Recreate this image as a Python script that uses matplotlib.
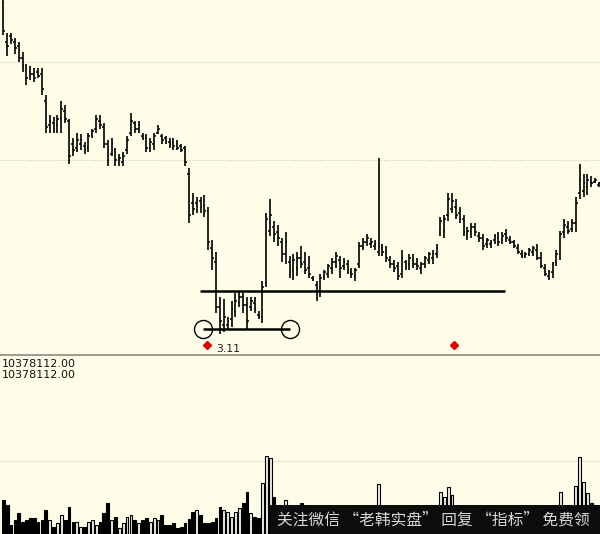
import matplotlib
matplotlib.use("Agg")
import matplotlib.pyplot as plt
from matplotlib.patches import Rectangle
import numpy as np

# ---------------- data ----------------
highs = [4.83, 4.65, 4.65, 4.62, 4.60, 4.55, 4.49, 4.48, 4.47, 4.47,
         4.47, 4.33, 4.23, 4.22, 4.23, 4.30, 4.28, 4.21, 4.11, 4.14,
         4.13, 4.09, 4.14, 4.16, 4.23, 4.23, 4.19, 4.10, 4.11, 4.06,
         4.03, 4.04, 4.12, 4.24, 4.20, 4.20, 4.14, 4.13, 4.11, 4.14,
         4.18, 4.13, 4.12, 4.11, 4.11, 4.10, 4.08, 4.07, 3.96, 3.83,
         3.81, 3.81, 3.82, 3.76, 3.59, 3.53, 3.30, 3.29, 3.20, 3.28,
         3.32, 3.33, 3.32, 3.30, 3.30, 3.30, 3.23, 3.38, 3.73, 3.80,
         3.69, 3.67, 3.60, 3.63, 3.51, 3.52, 3.53, 3.56, 3.53, 3.51,
         3.41, 3.38, 3.42, 3.44, 3.47, 3.50, 3.53, 3.51, 3.50, 3.49,
         3.45, 3.45, 3.58, 3.60, 3.62, 3.60, 3.59, 4.01, 3.57, 3.56,
         3.51, 3.49, 3.48, 3.54, 3.49, 3.52, 3.52, 3.50, 3.48, 3.51,
         3.53, 3.54, 3.57, 3.71, 3.72, 3.83, 3.83, 3.80, 3.76, 3.72,
         3.66, 3.68, 3.68, 3.63, 3.62, 3.60, 3.59, 3.62, 3.63, 3.63,
         3.65, 3.61, 3.59, 3.57, 3.54, 3.53, 3.55, 3.56, 3.57, 3.53,
         3.47, 3.44, 3.48, 3.54, 3.64, 3.70, 3.69, 3.70, 3.81, 3.98,
         3.93, 3.93, 3.92, 3.91, 3.89]
lows = [4.64, 4.53, 4.59, 4.54, 4.50, 4.45, 4.38, 4.41, 4.40, 4.42,
        4.33, 4.14, 4.14, 4.14, 4.14, 4.14, 4.19, 3.98, 4.02, 4.04,
        4.05, 4.03, 4.04, 4.11, 4.14, 4.16, 4.06, 3.97, 4.02, 3.97,
        3.97, 3.97, 4.03, 4.12, 4.14, 4.14, 4.10, 4.04, 4.04, 4.05,
        4.13, 4.08, 4.08, 4.06, 4.05, 4.05, 4.04, 3.97, 3.68, 3.72,
        3.73, 3.73, 3.71, 3.54, 3.44, 3.22, 3.11, 3.12, 3.14, 3.15,
        3.20, 3.25, 3.22, 3.14, 3.23, 3.22, 3.19, 3.17, 3.35, 3.61,
        3.58, 3.56, 3.48, 3.47, 3.40, 3.39, 3.41, 3.45, 3.42, 3.40,
        3.38, 3.28, 3.30, 3.39, 3.40, 3.42, 3.45, 3.40, 3.44, 3.42,
        3.40, 3.38, 3.45, 3.54, 3.56, 3.55, 3.54, 3.51, 3.51, 3.48,
        3.45, 3.43, 3.39, 3.40, 3.44, 3.44, 3.45, 3.44, 3.42, 3.45,
        3.47, 3.47, 3.50, 3.61, 3.60, 3.69, 3.73, 3.70, 3.68, 3.61,
        3.59, 3.60, 3.61, 3.58, 3.54, 3.55, 3.55, 3.57, 3.56, 3.57,
        3.58, 3.57, 3.55, 3.52, 3.50, 3.50, 3.51, 3.51, 3.49, 3.45,
        3.41, 3.39, 3.40, 3.46, 3.49, 3.60, 3.62, 3.63, 3.63, 3.80,
        3.81, 3.82, 3.86, 3.88, 3.86]
opens = [4.80, 4.60, 4.63, 4.60, 4.58, 4.52, 4.46, 4.45, 4.44, 4.45,
         4.44, 4.30, 4.18, 4.19, 4.18, 4.22, 4.25, 4.20, 4.08, 4.06,
         4.08, 4.07, 4.06, 4.13, 4.16, 4.20, 4.17, 4.08, 4.03, 4.05,
         4.00, 3.99, 4.05, 4.14, 4.19, 4.16, 4.12, 4.11, 4.06, 4.08,
         4.14, 4.12, 4.11, 4.09, 4.09, 4.08, 4.07, 4.06, 3.93, 3.78,
         3.78, 3.79, 3.77, 3.74, 3.55, 3.48, 3.25, 3.16, 3.16, 3.19,
         3.23, 3.27, 3.30, 3.26, 3.25, 3.27, 3.21, 3.20, 3.37, 3.64,
         3.66, 3.63, 3.58, 3.52, 3.48, 3.44, 3.45, 3.50, 3.48, 3.45,
         3.40, 3.36, 3.33, 3.41, 3.42, 3.45, 3.48, 3.49, 3.46, 3.47,
         3.43, 3.41, 3.47, 3.56, 3.58, 3.57, 3.56, 3.53, 3.55, 3.53,
         3.49, 3.47, 3.46, 3.42, 3.48, 3.47, 3.49, 3.47, 3.45, 3.47,
         3.49, 3.50, 3.52, 3.63, 3.64, 3.72, 3.75, 3.76, 3.73, 3.70,
         3.62, 3.63, 3.66, 3.61, 3.60, 3.57, 3.57, 3.59, 3.60, 3.59,
         3.62, 3.59, 3.58, 3.55, 3.52, 3.51, 3.52, 3.53, 3.54, 3.50,
         3.45, 3.41, 3.43, 3.48, 3.52, 3.63, 3.66, 3.65, 3.68, 3.83,
         3.84, 3.86, 3.89, 3.89, 3.87]
closes = [4.66, 4.58, 4.61, 4.57, 4.52, 4.48, 4.42, 4.44, 4.42, 4.43,
          4.36, 4.17, 4.20, 4.16, 4.21, 4.26, 4.21, 4.02, 4.05, 4.10,
          4.10, 4.05, 4.12, 4.15, 4.21, 4.18, 4.08, 4.00, 4.08, 4.00,
          4.01, 4.02, 4.10, 4.20, 4.16, 4.18, 4.11, 4.06, 4.09, 4.12,
          4.16, 4.10, 4.09, 4.08, 4.07, 4.06, 4.05, 3.99, 3.72, 3.75,
          3.79, 3.76, 3.74, 3.58, 3.50, 3.25, 3.18, 3.20, 3.18, 3.24,
          3.28, 3.30, 3.26, 3.18, 3.28, 3.24, 3.20, 3.35, 3.70, 3.72,
          3.62, 3.60, 3.52, 3.58, 3.43, 3.49, 3.50, 3.47, 3.44, 3.42,
          3.39, 3.32, 3.40, 3.43, 3.46, 3.48, 3.51, 3.45, 3.48, 3.44,
          3.42, 3.44, 3.56, 3.58, 3.60, 3.58, 3.57, 3.56, 3.53, 3.50,
          3.47, 3.45, 3.41, 3.50, 3.46, 3.50, 3.47, 3.46, 3.47, 3.50,
          3.52, 3.52, 3.55, 3.69, 3.70, 3.80, 3.79, 3.72, 3.70, 3.63,
          3.64, 3.66, 3.63, 3.60, 3.56, 3.59, 3.58, 3.61, 3.58, 3.61,
          3.60, 3.58, 3.56, 3.53, 3.51, 3.52, 3.54, 3.55, 3.50, 3.46,
          3.42, 3.43, 3.47, 3.52, 3.62, 3.67, 3.64, 3.68, 3.78, 3.90,
          3.88, 3.90, 3.88, 3.90, 3.88]
# volume in millions of shares
volumes = [4.55, 3.88, 1.20, 1.87, 2.81, 1.61, 1.87, 2.14, 2.14, 1.61,
           1.87, 3.21, 1.87, 0.94, 1.47, 2.54, 1.87, 3.62, 1.61, 1.61,
           0.94, 0.94, 1.61, 1.87, 1.20, 1.61, 2.81, 4.15, 1.87, 2.28,
           0.80, 1.47, 2.28, 2.54, 1.87, 1.47, 1.87, 2.14, 1.61, 2.14,
           1.87, 2.54, 1.20, 1.20, 1.47, 0.80, 0.94, 1.47, 2.00, 2.95,
           3.21, 2.54, 1.47, 1.47, 1.61, 2.14, 3.62, 3.21, 2.95, 2.28,
           2.95, 3.48, 4.15, 5.62, 2.81, 2.28, 2.14, 6.83, 10.38, 10.20,
           4.95, 3.20, 2.80, 4.55, 2.50, 2.20, 2.60, 4.20, 2.40, 2.00,
           1.80, 2.60, 2.90, 2.20, 2.00, 2.40, 2.10, 1.90, 1.70, 1.80,
           1.60, 2.30, 3.40, 2.60, 2.20, 1.90, 2.10, 6.70, 3.00, 2.40,
           2.00, 1.80, 2.20, 2.70, 1.90, 2.00, 1.70, 1.60, 1.80, 2.10,
           2.30, 2.20, 2.80, 5.60, 4.95, 6.29, 5.22, 3.40, 2.80, 2.60,
           2.30, 2.00, 1.90, 2.10, 2.20, 1.80, 1.70, 1.90, 2.00, 1.80,
           2.10, 1.70, 1.60, 1.80, 1.50, 1.40, 1.60, 1.70, 2.00, 2.20,
           2.40, 2.00, 2.30, 2.90, 5.62, 3.60, 2.80, 3.20, 6.43, 10.30,
           6.96, 5.49, 4.15, 3.00, 3.50]

support_level = 3.33
support_span = (50.9, 129.7)
base_level = 3.14
base_span = (51.6, 74.1)
low_label = "3.11"
high_label = "4.01"
vol_label = "10378112.00"
watermark = "关注微信 “老韩实盘” 回复 “指标” 免费领"

# ---------------- drawing ----------------
BG = "#FEFEE8"
W, H = 600, 534
fig = plt.figure(figsize=(W / 100, H / 100), dpi=100, facecolor=BG)

n = len(highs)
x = np.arange(n)
xlim = (-0.85, 154.26)

ax = fig.add_axes([0, 179 / H, 1, 355 / H], facecolor=BG)
axv = fig.add_axes([0, 0, 1, 178 / H], facecolor=BG)

# price panel
ax.set_xlim(*xlim)
ax.set_ylim(3.005, 4.816)
for g in (4.0, 4.5):
    ax.axhline(g, color="#c8c8b8", lw=0.8, ls=(0, (1, 1.5)), zorder=0)
ax.vlines(x, lows, highs, color="black", lw=1.2, zorder=3)
ax.hlines(opens, x - 0.45, x, color="black", lw=1.1, zorder=3)
ax.hlines(closes, x, x + 0.45, color="black", lw=1.1, zorder=3)

ax.hlines(support_level, *support_span, color="black", lw=1.8, zorder=4)
ax.hlines(base_level, *base_span, color="black", lw=1.8, zorder=4)
ax.plot(list(base_span), [base_level, base_level], ls="none", marker="o",
        ms=13, mfc="none", mec="black", mew=1.0, zorder=5)

imax = int(np.argmax(highs))
imin = int(np.argmin(lows))
ax.annotate(high_label, (imax, highs[imax]), xytext=(-1, 2),
            textcoords="offset points", ha="center", va="bottom",
            fontsize=7.8, color="#202020")
ax.plot([imin - 3.3], [3.056], marker="D", ms=4.5, color="#e00000",
        ls="none", zorder=5)
ax.annotate(low_label, (imin - 1, 3.035), xytext=(0, 0),
            textcoords="offset points", ha="left", va="center",
            fontsize=7.8, color="#202020")
ax.plot([116.5], [3.056], marker="D", ms=4.5, color="#e00000",
        ls="none", zorder=5)

for s in ("top", "left", "right"):
    ax.spines[s].set_visible(False)
ax.spines["bottom"].set_color("#8a8a80")
ax.spines["bottom"].set_linewidth(1.2)
ax.set_xticks([])
ax.set_yticks([])

# volume panel
axv.set_xlim(*xlim)
axv.set_ylim(0, 23.83)
axv.axhline(9.77, color="#c8c8b8", lw=0.8, ls=(0, (1, 1.5)), zorder=0)
up = np.array(closes) >= np.array(opens)
vol = np.array(volumes)
axv.bar(x[up], vol[up], width=0.72, facecolor="#eeeee4", edgecolor="black",
        lw=0.8, zorder=2)
axv.bar(x[~up], vol[~up], width=0.72, facecolor="black", edgecolor="black",
        lw=0.8, zorder=2)
for s in axv.spines.values():
    s.set_visible(False)
axv.set_xticks([])
axv.set_yticks([])
axv.text(0.003, 0.955, vol_label, transform=axv.transAxes, fontsize=8,
         va="center", ha="left", color="#101010")
axv.text(0.003, 0.893, vol_label, transform=axv.transAxes, fontsize=8,
         va="center", ha="left", color="#101010")

# watermark banner
fig.patches.append(Rectangle((270 / W, 0), 330 / W, 29 / H,
                             transform=fig.transFigure, facecolor="#0c0c0c",
                             edgecolor="none", zorder=10))
fig.text(277 / W, 14.5 / H, watermark, fontsize=11.3, color="#d8d8d8",
         va="center", ha="left", family=["Noto Sans CJK SC", "DejaVu Sans"],
         zorder=11)

fig.savefig("out.png", dpi=100, facecolor=BG)
